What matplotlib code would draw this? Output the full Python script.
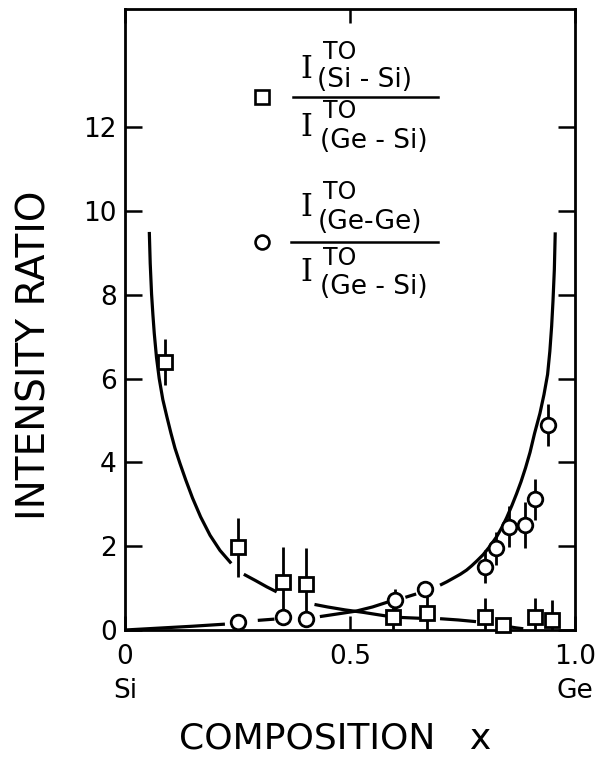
import numpy as np
import matplotlib.pyplot as plt

# measured ratio I(Si-Si)/I(Ge-Si)  -> squares
sq_x = [0.089, 0.252, 0.352, 0.402, 0.596, 0.670, 0.800, 0.841, 0.911, 0.948]
sq_y = [6.40, 1.97, 1.15, 1.10, 0.30, 0.40, 0.30, 0.12, 0.32, 0.24]
sq_err = [0.55, 0.70, 0.84, 0.85, 0.35, 0.45, 0.46, 0.0, 0.44, 0.48]

# measured ratio I(Ge-Ge)/I(Ge-Si)  -> circles
ci_x = [0.252, 0.352, 0.402, 0.599, 0.667, 0.800, 0.824, 0.854, 0.888, 0.911, 0.939]
ci_y = [0.20, 0.32, 0.26, 0.72, 0.97, 1.51, 1.95, 2.47, 2.50, 3.12, 4.89]
ci_err = [0.0, 0.0, 0.0, 0.25, 0.0, 0.39, 0.40, 0.48, 0.55, 0.49, 0.51]

# calculated curves, drawn in pieces (broken around the data)
curve_si = [
    ([0.054, 0.056, 0.059, 0.062, 0.065, 0.070, 0.076, 0.084, 0.093, 0.102, 0.111, 0.122, 0.135,
      0.150, 0.168, 0.189, 0.211, 0.236],
     [9.50, 8.75, 8.02, 7.52, 7.08, 6.50, 6.00, 5.50, 5.09, 4.70, 4.34, 3.98, 3.58,
      3.15, 2.70, 2.26, 1.90, 1.59]),
    ([0.264, 0.290, 0.315, 0.337],
     [1.33, 1.18, 1.03, 0.91]),
    ([0.421, 0.450, 0.489, 0.530, 0.565, 0.596],
     [0.61, 0.55, 0.48, 0.42, 0.36, 0.31]),
    ([0.612, 0.655],
     [0.30, 0.28]),
    ([0.700, 0.740, 0.780],
     [0.27, 0.24, 0.20]),
    ([0.852, 0.870, 0.885],
     [0.08, 0.05, 0.03]),
]
curve_ge = [
    ([0.0, 0.050, 0.100, 0.150, 0.222],
     [0.0, 0.03, 0.06, 0.09, 0.14]),
    ([0.295, 0.332],
     [0.23, 0.26]),
    ([0.433, 0.470, 0.513, 0.550, 0.599],
     [0.32, 0.38, 0.45, 0.55, 0.72]),
    ([0.623, 0.647],
     [0.78, 0.86]),
    ([0.700, 0.715, 0.730, 0.745, 0.759, 0.770, 0.782, 0.796, 0.811, 0.826, 0.838, 0.848, 0.860,
      0.870, 0.880, 0.890, 0.900, 0.910, 0.922, 0.931, 0.939, 0.944, 0.948, 0.951, 0.954, 0.956],
     [1.07, 1.15, 1.24, 1.33, 1.43, 1.53, 1.65, 1.80, 2.00, 2.23, 2.46, 2.68, 2.98,
      3.25, 3.54, 3.87, 4.24, 4.69, 5.17, 5.62, 6.10, 6.65, 7.25, 7.85, 8.60, 9.49]),
]

xticks = [0, 0.5, 1.0]
xticklabels = ['0\nSi', '0.5', '1.0\nGe']
yticks = [0, 2, 4, 6, 8, 10, 12]

fig = plt.figure(figsize=(5.99, 7.63), dpi=100)
ax = fig.add_axes([0.2087, 0.1743, 0.7513, 0.8139])

for xs, ys in curve_si + curve_ge:
    ax.plot(xs, ys, color='k', lw=2.3, solid_capstyle='butt', zorder=2)

ax.errorbar(sq_x, sq_y, yerr=sq_err, fmt='none', ecolor='k', elinewidth=2.0, capsize=0, zorder=3)
ax.errorbar(ci_x, ci_y, yerr=ci_err, fmt='none', ecolor='k', elinewidth=2.0, capsize=0, zorder=3)
ax.plot(sq_x, sq_y, 's', ms=10, mfc='white', mec='k', mew=2.0, zorder=4, clip_on=False)
ax.plot(ci_x, ci_y, 'o', ms=10.5, mfc='white', mec='k', mew=2.0, zorder=4, clip_on=False)

# key: symbol + intensity fraction
serif = 'DejaVu Serif'
ax.plot([0.304], [12.73], 's', ms=9.5, mfc='white', mec='k', mew=1.9)
ax.plot([0.373, 0.696], [12.73, 12.73], color='k', lw=1.8)
ax.text(0.403, 13.37, 'I', family=serif, fontsize=22, ha='center', va='center')
ax.text(0.440, 13.80, 'TO', fontsize=17, ha='left', va='center')
ax.text(0.427, 13.12, '(Si - Si)', fontsize=19, ha='left', va='center')
ax.text(0.403, 11.99, 'I', family=serif, fontsize=22, ha='center', va='center')
ax.text(0.440, 12.38, 'TO', fontsize=17, ha='left', va='center')
ax.text(0.433, 11.66, '(Ge - Si)', fontsize=19, ha='left', va='center')

ax.plot([0.304], [9.27], 'o', ms=10, mfc='white', mec='k', mew=1.9)
ax.plot([0.368, 0.696], [9.27, 9.27], color='k', lw=1.8)
ax.text(0.403, 10.08, 'I', family=serif, fontsize=22, ha='center', va='center')
ax.text(0.440, 10.45, 'TO', fontsize=17, ha='left', va='center')
ax.text(0.429, 9.74, '(Ge-Ge)', fontsize=19, ha='left', va='center')
ax.text(0.403, 8.53, 'I', family=serif, fontsize=22, ha='center', va='center')
ax.text(0.440, 8.87, 'TO', fontsize=17, ha='left', va='center')
ax.text(0.433, 8.19, '(Ge - Si)', fontsize=19, ha='left', va='center')

ax.set_xlim(0, 1.0)
ax.set_ylim(0, 14.82)
ax.set_xticks(xticks)
ax.set_xticklabels(xticklabels, fontsize=19, linespacing=1.4)
ax.set_yticks(yticks)
ax.set_yticklabels([str(v) for v in yticks], fontsize=19)
ax.tick_params(axis='y', direction='in', length=12, width=1.8, left=True, right=True, pad=6)
ax.tick_params(axis='x', direction='in', length=10, width=1.8, top=True, bottom=True, pad=10)
for sp in ax.spines.values():
    sp.set_linewidth(2.0)

ax.set_ylabel('INTENSITY RATIO', fontsize=28)
ax.yaxis.set_label_coords(-0.16, 0.443)
ax.set_xlabel('COMPOSITION   x', fontsize=26)
ax.xaxis.set_label_coords(0.467, -0.148)

fig.savefig('out.png', dpi=100)
